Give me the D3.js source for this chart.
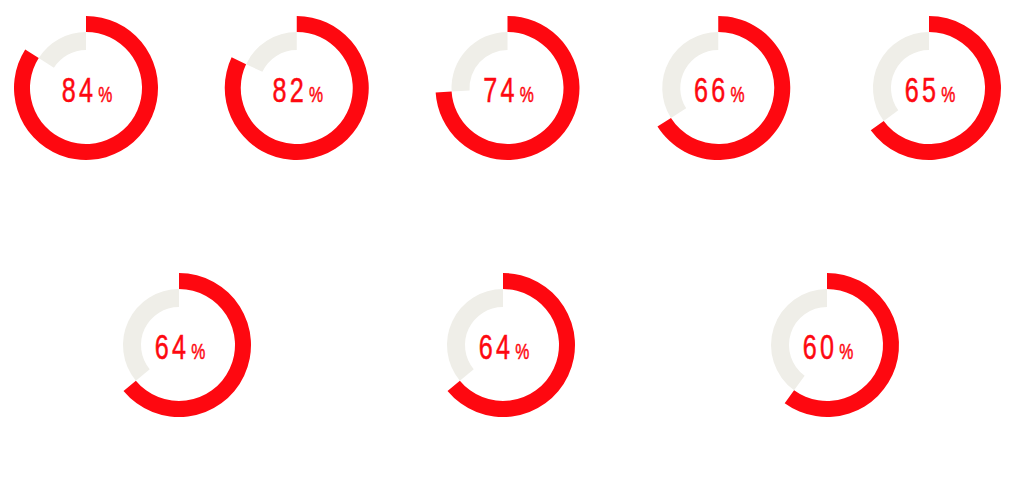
<!DOCTYPE html>
<html>
<head>
<meta charset="utf-8">
<script src="https://cdn.jsdelivr.net/npm/d3@7"></script>
<style>
  html, body { margin: 0; padding: 0; background: #ffffff; }
  svg { display: block; }
</style>
</head>
<body>
<div id="chart"></div>
<script>
// ---- data ----
const values = [84, 82, 74, 66, 65, 64, 64, 60];
const topRowCount = 5;

// ---- layout ----
const W = 1015, H = 484;
const red = "#fe0810";
const track = "#efeee8";

const svg = d3.select("#chart").append("svg")
  .attr("width", W).attr("height", H);

const angle = d3.scaleLinear().domain([0, 100]).range([0, 2 * Math.PI]);

const topIdx = d3.range(topRowCount);
const botIdx = d3.range(topRowCount, values.length);
const xTop = d3.scalePoint().domain(topIdx).range([86, 929]);
const xBot = d3.scalePoint().domain(botIdx).range([179, 827]);
const yRow = d3.scalePoint().domain([0, 1]).range([88, 345]);

const rOuter = 72, rMid = 56, rInner = 38;
const arcRed = d3.arc().innerRadius(rMid).outerRadius(rOuter);
const arcTrack = d3.arc().innerRadius(rInner).outerRadius(rMid);

const g = svg.selectAll("g.gauge")
  .data(values.map((v, i) => ({ v, i })))
  .join("g")
  .attr("class", "gauge")
  .attr("transform", d => {
    const row = d.i < topRowCount ? 0 : 1;
    const x = row === 0 ? xTop(d.i) : xBot(d.i);
    return `translate(${x},${yRow(row)})`;
  });

g.append("path")
  .attr("fill", track)
  .attr("d", d => arcTrack({ startAngle: angle(d.v), endAngle: angle(100) }));

g.append("path")
  .attr("fill", red)
  .attr("d", d => arcRed({ startAngle: angle(0), endAngle: angle(d.v) }));

const txt = g.append("text")
  .attr("text-anchor", "middle")
  .attr("transform", "translate(1,14) scale(0.72,1)")
  .attr("fill", red)
  .attr("stroke", red)
  .attr("stroke-width", 0.5)
  .style("font-family", "'Liberation Sans', Arial, sans-serif")
  .style("letter-spacing", "4.5px");

txt.append("tspan")
  .style("font-size", "35px")
  .text(d => d.v);
txt.append("tspan")
  .attr("dx", 3)
  .style("letter-spacing", "0px")
  .style("font-size", "22px")
  .text("%");
</script>
</body>
</html>
